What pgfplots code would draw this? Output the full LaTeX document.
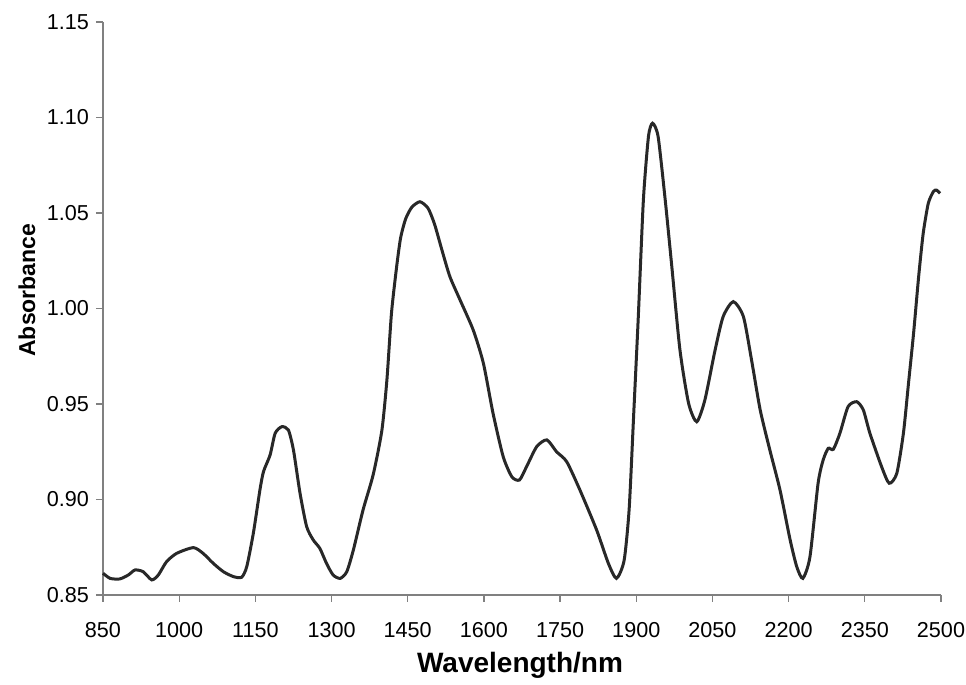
\documentclass[border=0pt]{standalone}
\usepackage{pgfplots}
\pgfplotsset{compat=1.18}
\usepackage{fontspec}
\setmainfont{Liberation Sans}

\definecolor{axisgray}{RGB}{128,128,128}
\definecolor{curve}{RGB}{40,40,40}

\begin{document}
\begin{tikzpicture}
\begin{axis}[
    scale only axis,
    width=419pt, height=286.5pt,
    xmin=850, xmax=2500,
    ymin=0.85, ymax=1.15,
    xtick={850,1000,...,2500},
    ytick={0.85,0.90,...,1.151},
    axis x line*=bottom,
    axis y line*=left,
    axis line style={axisgray, line width=0.6pt},
    tick style={axisgray, line width=0.6pt},
    major tick length=3.5pt,
    tick align=outside,
    /pgf/number format/assume math mode=true,
    xticklabel style={font=\fontsize{10.8}{12}\selectfont, yshift=-6.5pt, /pgf/number format/1000 sep={}},
    yticklabel style={font=\fontsize{10.8}{12}\selectfont, /pgf/number format/.cd, fixed, fixed zerofill, precision=2},
    scaled y ticks=false,
    xlabel={\textbf{Wavelength/nm}},
    ylabel={\textbf{Absorbance}},
    xlabel style={font=\fontsize{14}{16}\selectfont, at={(axis description cs:0.4976,-0.122)}, anchor=center},
    ylabel style={font=\fontsize{11.5}{13}\selectfont, at={(axis description cs:-0.0907,0.532)}, anchor=center},
    clip=false,
]
\addplot[curve, line width=1.5pt, smooth, tension=0.4] coordinates {
(850,0.8614) (864,0.8587) (883,0.8584) (900,0.8605) (913,0.8631) (929,0.8622)
(946,0.8579) (959,0.8605) (975,0.8674) (995,0.8718) (1028,0.8748) (1047,0.8718)
(1067,0.8666) (1087,0.8622) (1107,0.8596) (1123,0.8593) (1133,0.8648) (1146,0.8823)
(1159,0.9050) (1166,0.9146) (1179,0.9233) (1189,0.9347) (1202,0.9381) (1215,0.9364)
(1225,0.9259) (1238,0.9032) (1251,0.8858) (1264,0.8788) (1277,0.8744) (1290,0.8666)
(1303,0.8605) (1317,0.8587) (1330,0.8622) (1343,0.8736) (1362,0.8945) (1382,0.9130)
(1399,0.9360) (1409,0.9626) (1418,0.9975) (1428,1.0215) (1436,1.0370) (1446,1.0470)
(1458,1.0530) (1474,1.0559) (1490,1.0525) (1503,1.0440) (1518,1.0300) (1533,1.0167)
(1553,1.0045) (1579,0.9887) (1599,0.9713) (1618,0.9451) (1638,0.9224) (1655,0.9119)
(1670,0.9102) (1684,0.9172) (1704,0.9277) (1724,0.9312) (1743,0.9250) (1763,0.9198)
(1789,0.9050) (1822,0.8840) (1845,0.8666) (1861,0.8587) (1876,0.8680) (1886,0.8950)
(1895,0.9450) (1904,0.9957) (1914,1.0568) (1924,1.0900) (1932,1.0970) (1943,1.0900)
(1957,1.0568) (1970,1.0219) (1986,0.9783) (2003,0.9504) (2019,0.9407) (2035,0.9520)
(2055,0.9780) (2071,0.9957) (2091,1.0036) (2111,0.9957) (2127,0.9730) (2144,0.9469)
(2163,0.9259) (2183,0.9050) (2203,0.8788) (2216,0.8648) (2228,0.8587) (2242,0.8700)
(2258,0.9085) (2268,0.9207) (2278,0.9268) (2288,0.9263) (2301,0.9347) (2317,0.9486)
(2334,0.9512) (2347,0.9469) (2360,0.9347) (2383,0.9172) (2398,0.9085) (2413,0.9137)
(2426,0.9347) (2436,0.9608) (2446,0.9870) (2456,1.0167) (2465,1.0394) (2475,1.0551)
(2485,1.0612) (2491,1.0620) (2498,1.0603)
};
\end{axis}
\pgfresetboundingbox
\path (-51.5pt,-45pt) rectangle (431.5pt,297.5pt);
\end{tikzpicture}
\end{document}
